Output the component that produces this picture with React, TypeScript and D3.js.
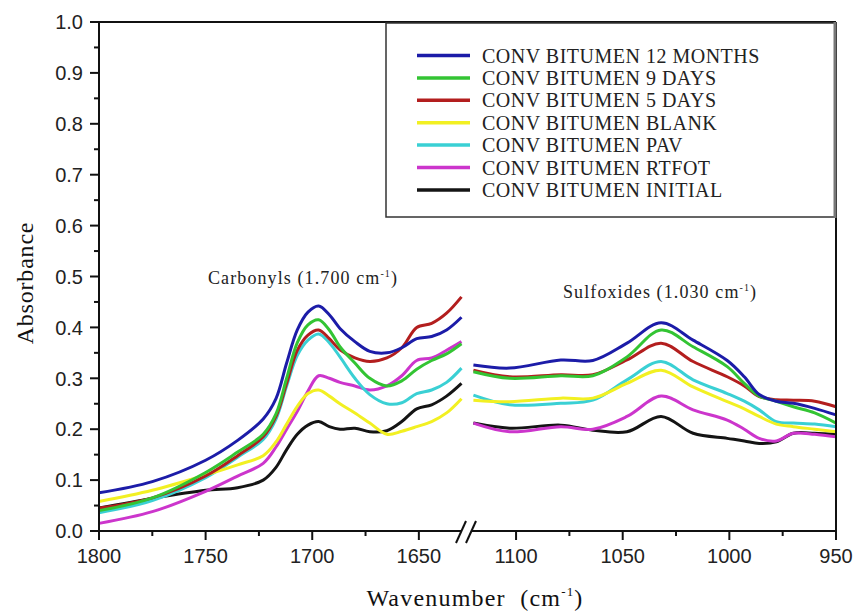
import React from "react";
import * as d3 from "d3";

// ---- data ----
const leftWavenumbers = [1800, 1775, 1750, 1735, 1723, 1717, 1712, 1707, 1702, 1697, 1692, 1687, 1680, 1673, 1665, 1658, 1651, 1644, 1637, 1630];
const rightWavenumbers = [1120, 1103, 1079, 1064, 1048, 1032, 1017, 1001, 993, 986, 978, 970, 960, 950];

const months12Left = [0.075, 0.097, 0.139, 0.178, 0.22, 0.26, 0.33, 0.395, 0.43, 0.442, 0.425, 0.398, 0.372, 0.353, 0.35, 0.36, 0.378, 0.382, 0.395, 0.42];
const days9Left = [0.04, 0.065, 0.115, 0.155, 0.19, 0.23, 0.3, 0.37, 0.405, 0.415, 0.395, 0.362, 0.33, 0.3, 0.285, 0.295, 0.318, 0.335, 0.348, 0.368];
const days5Left = [0.045, 0.065, 0.108, 0.148, 0.185, 0.225, 0.29, 0.355, 0.385, 0.395, 0.378, 0.356, 0.34, 0.333, 0.34, 0.36, 0.4, 0.408, 0.428, 0.46];
const blankLeft = [0.058, 0.08, 0.11, 0.13, 0.148, 0.175, 0.21, 0.245, 0.27, 0.277, 0.265, 0.25, 0.232, 0.212, 0.19, 0.196, 0.205, 0.215, 0.232, 0.26];
const pavLeft = [0.036, 0.06, 0.105, 0.145, 0.18, 0.22, 0.285, 0.345, 0.375, 0.387, 0.37, 0.342, 0.3, 0.268, 0.25, 0.252, 0.27, 0.277, 0.292, 0.32];
const rtfotLeft = [0.015, 0.038, 0.078, 0.108, 0.133, 0.165, 0.2, 0.235, 0.275, 0.305, 0.3, 0.292, 0.285, 0.277, 0.285, 0.305, 0.335, 0.34, 0.355, 0.372];
const initialLeft = [0.045, 0.064, 0.08, 0.085, 0.1, 0.125, 0.16, 0.19, 0.208, 0.215, 0.205, 0.2, 0.202, 0.195, 0.197, 0.215, 0.24, 0.248, 0.265, 0.29];

const months12Right = [0.326, 0.32, 0.336, 0.335, 0.369, 0.409, 0.375, 0.335, 0.303, 0.268, 0.255, 0.251, 0.241, 0.228];
const days9Right = [0.313, 0.3, 0.305, 0.305, 0.342, 0.395, 0.362, 0.323, 0.29, 0.265, 0.255, 0.244, 0.232, 0.212];
const days5Right = [0.316, 0.303, 0.307, 0.307, 0.336, 0.369, 0.333, 0.303, 0.285, 0.264, 0.258, 0.257, 0.255, 0.244];
const blankRight = [0.257, 0.254, 0.261, 0.261, 0.29, 0.316, 0.283, 0.254, 0.24, 0.225, 0.21, 0.205, 0.2, 0.195];
const pavRight = [0.267, 0.248, 0.251, 0.257, 0.297, 0.333, 0.297, 0.27, 0.255, 0.238, 0.215, 0.212, 0.21, 0.205];
const rtfotRight = [0.212, 0.195, 0.205, 0.2, 0.225, 0.265, 0.238, 0.218, 0.2, 0.182, 0.177, 0.192, 0.19, 0.185];
const initialRight = [0.212, 0.202, 0.208, 0.198, 0.195, 0.225, 0.192, 0.182, 0.177, 0.172, 0.175, 0.192, 0.192, 0.19];

const seriesNames = [
  "CONV BITUMEN 12 MONTHS",
  "CONV BITUMEN 9 DAYS",
  "CONV BITUMEN 5 DAYS",
  "CONV BITUMEN BLANK",
  "CONV BITUMEN PAV",
  "CONV BITUMEN RTFOT",
  "CONV BITUMEN INITIAL",
];
const seriesColors = ["#1c1ca8", "#33c433", "#b31e1e", "#f2f022", "#3ad0d4", "#cc35cc", "#141414"];
const leftValues = [months12Left, days9Left, days5Left, blankLeft, pavLeft, rtfotLeft, initialLeft];
const rightValues = [months12Right, days9Right, days5Right, blankRight, pavRight, rtfotRight, initialRight];

const leftMajorTicks = [1800, 1750, 1700, 1650];
const leftMinorTicks = [1775, 1725, 1675];
const rightMajorTicks = [1100, 1050, 1000, 950];
const rightMinorTicks = [1075, 1025, 975];
const yMajorTicks = [0, 0.1, 0.2, 0.3, 0.4, 0.5, 0.6, 0.7, 0.8, 0.9, 1.0];
const yMinorTicks = [0.05, 0.15, 0.25, 0.35, 0.45, 0.55, 0.65, 0.75, 0.85, 0.95];

export default function App() {
  const W = 855, H = 614;
  const plotLeft = 99, plotRight = 836, plotTop = 22, plotBottom = 531;
  const xLeft = d3.scaleLinear().domain([1800, 1630]).range([plotLeft, 461.5]);
  const xRight = d3.scaleLinear().domain([1120, 950]).range([473.4, plotRight]);
  const y = d3.scaleLinear().domain([0, 1]).range([plotBottom, plotTop]);

  const lineL = d3.line<number>().x((_, i) => xLeft(leftWavenumbers[i])).y((d) => y(d)).curve(d3.curveCatmullRom.alpha(0.5));
  const lineR = d3.line<number>().x((_, i) => xRight(rightWavenumbers[i])).y((d) => y(d)).curve(d3.curveCatmullRom.alpha(0.5));

  const serif = "'Liberation Serif', 'Times New Roman', serif";
  const sans = "'Liberation Sans', Arial, sans-serif";
  const order = [6, 5, 4, 3, 2, 1, 0];

  const legX0 = 417, legX1 = 470, legTextX = 482, legY0 = 55.5, legStep = 22.4;

  return (
    <svg width={W} height={H} style={{ position: "absolute", left: 0, top: 0, background: "#fff" }}>
      <rect x={0} y={0} width={W} height={H} fill="#fff" />
      {/* curves */}
      {order.map((k) => (
        <g key={k}>
          <path d={lineL(leftValues[k]) || ""} fill="none" stroke={seriesColors[k]} strokeWidth={3} strokeLinejoin="round" />
          <path d={lineR(rightValues[k]) || ""} fill="none" stroke={seriesColors[k]} strokeWidth={3} strokeLinejoin="round" />
        </g>
      ))}

      {/* frame */}
      <line x1={plotLeft} x2={plotLeft} y1={plotTop} y2={plotBottom + 1} stroke="#111" strokeWidth={2} />
      <line x1={plotLeft} x2={plotRight} y1={plotTop} y2={plotTop} stroke="#111" strokeWidth={2} />
      <line x1={plotRight} x2={plotRight} y1={plotTop} y2={plotBottom + 1} stroke="#111" strokeWidth={2} />
      <line x1={plotLeft - 1} x2={461} y1={plotBottom} y2={plotBottom} stroke="#111" strokeWidth={2} />
      <line x1={471} x2={plotRight + 1} y1={plotBottom} y2={plotBottom} stroke="#111" strokeWidth={2} />
      <line x1={456} y1={543} x2={466} y2={521} stroke="#111" strokeWidth={2} />
      <line x1={466} y1={543} x2={476} y2={521} stroke="#111" strokeWidth={2} />

      {/* y ticks */}
      {yMajorTicks.map((t) => (
        <g key={"ym" + t}>
          <line x1={plotLeft - 9} x2={plotLeft} y1={y(t)} y2={y(t)} stroke="#111" strokeWidth={2} />
          <text x={83} y={y(t)} dy="0.36em" textAnchor="end" fontFamily={sans} fontSize={20} fill="#222">
            {t.toFixed(1)}
          </text>
        </g>
      ))}
      {yMinorTicks.map((t) => (
        <line key={"yn" + t} x1={plotLeft - 5} x2={plotLeft} y1={y(t)} y2={y(t)} stroke="#111" strokeWidth={2} />
      ))}

      {/* x ticks */}
      {leftMajorTicks.map((t) => (
        <g key={"xl" + t}>
          <line x1={xLeft(t)} x2={xLeft(t)} y1={plotBottom} y2={plotBottom + 9} stroke="#111" strokeWidth={2} />
          <text x={xLeft(t)} y={563} textAnchor="middle" fontFamily={sans} fontSize={20} fill="#222">{t}</text>
        </g>
      ))}
      {leftMinorTicks.map((t) => (
        <line key={"xln" + t} x1={xLeft(t)} x2={xLeft(t)} y1={plotBottom} y2={plotBottom + 5} stroke="#111" strokeWidth={2} />
      ))}
      {rightMajorTicks.map((t) => (
        <g key={"xr" + t}>
          <line x1={xRight(t)} x2={xRight(t)} y1={plotBottom} y2={plotBottom + 9} stroke="#111" strokeWidth={2} />
          <text x={xRight(t)} y={563} textAnchor="middle" fontFamily={sans} fontSize={20} fill="#222">{t}</text>
        </g>
      ))}
      {rightMinorTicks.map((t) => (
        <line key={"xrn" + t} x1={xRight(t)} x2={xRight(t)} y1={plotBottom} y2={plotBottom + 5} stroke="#111" strokeWidth={2} />
      ))}

      {/* axis titles */}
      <text x={475} y={606} textAnchor="middle" fontFamily={serif} fontSize={24} letterSpacing={1.2} fill="#111">
        Wavenumber{"\u00a0\u00a0"}(cm<tspan fontSize={13} dy={-10}>-1</tspan><tspan dy={10}>)</tspan>
      </text>
      <text transform="translate(33,283) rotate(-90)" textAnchor="middle" fontFamily={serif} fontSize={24} letterSpacing={0.8} fill="#111">
        Absorbance
      </text>

      {/* annotations */}
      <text x={208} y={284} fontFamily={serif} fontSize={18} letterSpacing={1.1} fill="#222">
        Carbonyls (1.700 cm<tspan fontSize={10} dy={-7}>-1</tspan><tspan dy={7}>)</tspan>
      </text>
      <text x={563} y={298} fontFamily={serif} fontSize={18} letterSpacing={1.1} fill="#222">
        Sulfoxides (1.030 cm<tspan fontSize={10} dy={-7}>-1</tspan><tspan dy={7}>)</tspan>
      </text>

      {/* legend */}
      <rect x={386} y={23} width={449} height={194} fill="#fff" stroke="#333" strokeWidth={1.5} />
      <line x1={835} x2={835} y1={22} y2={218} stroke="#777" strokeWidth={3} />
      {seriesNames.map((name, i) => (
        <g key={name}>
          <line x1={legX0} x2={legX1} y1={legY0 + i * legStep} y2={legY0 + i * legStep} stroke={seriesColors[i]} strokeWidth={3.5} />
          <text x={legTextX} y={legY0 + i * legStep} dy="0.35em" fontFamily={serif} fontSize={20} letterSpacing={0.5} fill="#222">
            {name}
          </text>
        </g>
      ))}
    </svg>
  );
}
